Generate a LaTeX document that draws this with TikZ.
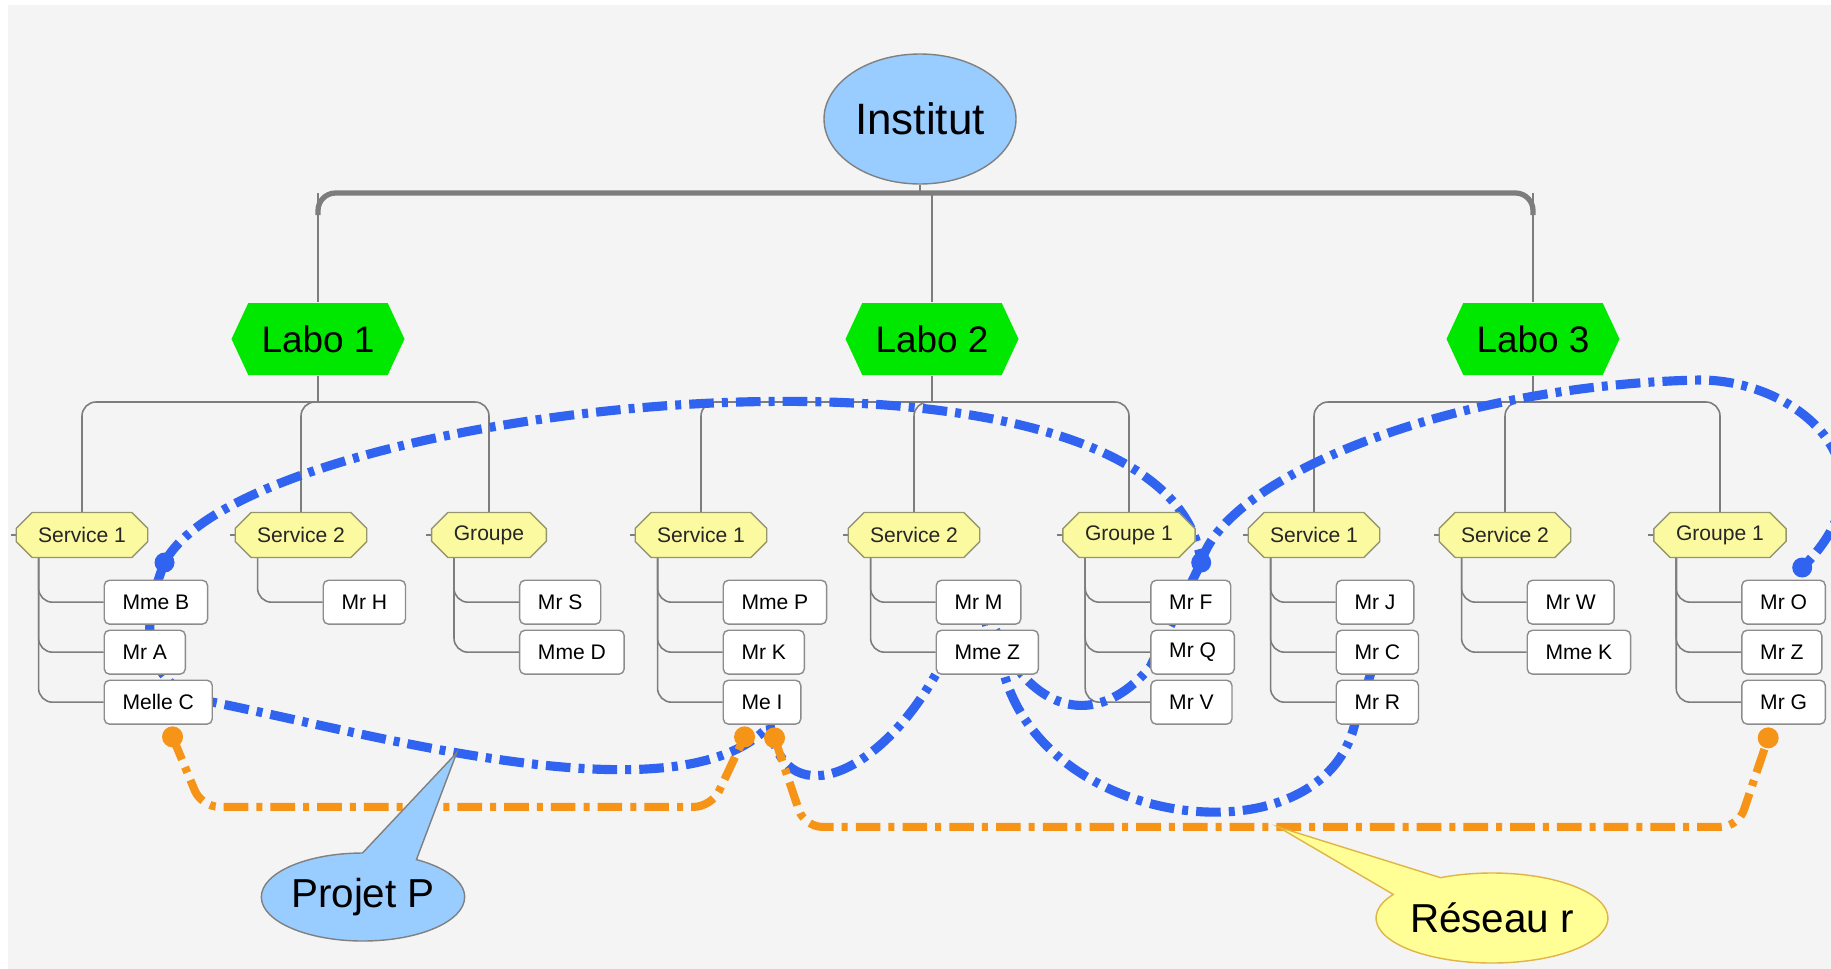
\documentclass[tikz,border=0pt]{standalone}
\usepackage{fontspec}
\setmainfont{Liberation Sans}
\usetikzlibrary{shapes.geometric,shapes.misc,shapes.symbols,shapes.callouts,calc,positioning}

\definecolor{bgGray}{RGB}{244,244,244}
\definecolor{lineGray}{RGB}{125,125,125}
\definecolor{instBlue}{RGB}{153,204,255}
\definecolor{laboGreen}{RGB}{0,232,0}
\definecolor{svcYellow}{RGB}{252,250,160}
\definecolor{svcEdge}{RGB}{150,150,110}
\definecolor{boxEdge}{RGB}{140,140,140}
\definecolor{projBlue}{RGB}{48,100,240}
\definecolor{resOrange}{RGB}{245,148,22}
\definecolor{noteYellow}{RGB}{255,255,150}
\definecolor{noteEdge}{RGB}{225,180,70}

\pgfdeclarelayer{bg}
\pgfdeclarelayer{tree}
\pgfdeclarelayer{links}
\pgfsetlayers{bg,tree,links,main}

\begin{document}
\begin{tikzpicture}[x=0.1mm, y=-0.1mm]
  \tikzset{
    treeline/.style={draw=lineGray, line width=0.45pt, rounded corners=4pt},
    busline/.style={draw=lineGray, line width=1.5pt, rounded corners=5pt},
    institut/.style={ellipse, draw=gray, fill=instBlue, minimum width=19.2mm,
      minimum height=13mm, inner sep=0pt, font=\fontsize{12.5}{14}\selectfont},
    labo/.style={signal, signal to=east and west, signal pointer angle=130,
      fill=laboGreen, minimum width=17.3mm, minimum height=7.2mm, inner sep=0pt,
      font=\fontsize{10.5}{12}\selectfont},
    service/.style={chamfered rectangle, chamfered rectangle xsep=2.3pt,
      chamfered rectangle ysep=2.3pt, draw=svcEdge, fill=svcYellow,
      minimum height=12.8pt, inner xsep=4pt, inner ysep=0pt,
      font=\fontsize{6}{7}\selectfont, text=black!85},
    person/.style={rectangle, rounded corners=1.5pt, draw=boxEdge, fill=white,
      minimum height=12.5pt, inner xsep=5.2pt, inner ysep=0pt, anchor=west,
      font=\fontsize{6}{7}\selectfont},
    projet/.style={draw=projBlue, line width=2.6pt,
      dash pattern=on 7pt off 2.3pt on 1.7pt off 2.3pt},
    reseau/.style={draw=resOrange, line width=2.3pt, rounded corners=5pt,
      dash pattern=on 7pt off 2.3pt on 1.7pt off 2.3pt},
    pdot/.style={circle, fill=projBlue, minimum size=2mm, inner sep=0pt},
    rdot/.style={circle, fill=resOrange, minimum size=2.1mm, inner sep=0pt},
    note/.style={ellipse callout, callout pointer arc=32, inner sep=0pt,
      font=\fontsize{11.5}{13}\selectfont}
  }
  \useasboundingbox (0,0) rectangle (1831,969);
  \begin{pgfonlayer}{bg}
    \fill[bgGray] (8,5) rectangle (1831,969);
  \end{pgfonlayer}
  \coordinate (busA) at (0,193);
  \coordinate (busB) at (0,402);

  \node[institut] (inst) at (920,119) {Institut};
  \node[labo] (L1) at (318,339) {Labo 1};
  \node[labo] (L2) at (932,339) {Labo 2};
  \node[labo] (L3) at (1533,339) {Labo 3};

  \foreach \s/\x/\lbl/\kids in {
      L1-S1/82/Service 1/{Mme B,Mr A,Melle C},
      L1-S2/301/Service 2/{Mr H},
      L1-G/489/Groupe/{Mr S,Mme D},
      L2-S1/701/Service 1/{Mme P,Mr K,Me I},
      L2-S2/914/Service 2/{Mr M,Mme Z},
      L2-G/1129/Groupe 1/{Mr F,Mr Q,Mr V},
      L3-S1/1314/Service 1/{Mr J,Mr C,Mr R},
      L3-S2/1505/Service 2/{Mr W,Mme K},
      L3-G/1720/Groupe 1/{Mr O,Mr Z,Mr G}} {
    \node[service] (\s) at (\x,535) {\lbl};
    \coordinate (\s-v) at ($(\s.west |- \s.south)+(23,0)$);
    \foreach \k [count=\i] in \kids {
      \node[person] (\s-\i) at ($(\s-v)+(65,-6+50*\i)$) {\k};
      \begin{pgfonlayer}{tree}
        \draw[treeline] (\s-v) |- (\s-\i.west);
      \end{pgfonlayer}
    }
    \begin{pgfonlayer}{tree}
      \draw[treeline] (\s.west) -- ++(-5,0);
    \end{pgfonlayer}
  }

  \begin{pgfonlayer}{tree}
    \draw[treeline] (inst.south) -- (inst.south |- busA);
    \draw[busline] (L1.north |- 0,215) |- (inst.south |- busA) -| (L3.north |- 0,215);
    \draw[treeline] (L1.north) -- (L1.north |- busA);
    \draw[treeline] (L2.north) -- (L2.north |- busA);
    \draw[treeline] (L3.north) -- (L3.north |- busA);
    \foreach \l in {L1,L2,L3} {
      \draw[treeline] (\l-S1.north) |- (\l.south |- busB) -| (\l-G.north);
      \draw[treeline] (\l.south) -- (\l.south |- busB);
      \draw[treeline] (\l-S2.north) |- (\l.south |- busB);
    }
  \end{pgfonlayer}

  \node[pdot] (dB) at ($(L1-S1-1.north west)+(61,-17)$) {};
  \node[pdot] (dF) at ($(L2-G-1.north west)+(51,-17)$) {};
  \node[pdot] (dO) at ($(L3-G-1.north west)+(61,-12)$) {};
  \node[rdot] (oC) at ($(L1-S1-3.south west)+(69,12)$) {};
  \node[rdot] (oI1) at ($(L2-S1-3.south west)+(22,12)$) {};
  \node[rdot] (oI2) at ($(L2-S1-3.south west)+(52,13)$) {};
  \node[rdot] (oG) at ($(L3-G-3.south west)+(27,13)$) {};
  \coordinate (arcTop) at (1700,380);

  \begin{pgfonlayer}{links}
    \draw[projet] (dB.center) .. controls +(-31,78) and +(-61,-11) .. (L1-S1-3.east)
      .. controls +(169,34) and +(-88,97) .. coordinate[pos=0.4] (tipP) ($(L2-S1-3.south)+(8,0)$)
      .. controls +(12,87) and +(-61,107) .. (L2-S2-2.south west);
    \draw[projet] (dB.center) .. controls +(84,-162) and +(-33,-262) .. (dF.center);
    \draw[projet] (dF.center) .. controls +(23,-85) and +(-250,5) .. (arcTop)
      .. controls +(100,0) and +(99,-97) .. (dO.center);
    \draw[projet] (L2-S2-1.center) -- ($(L2-S2-2.south)+(17,0)$)
      .. controls +(45,157) and +(-34,137) .. ($(L3-S1-3.south west)+(19,0)$) -- (L3-S1-2.center);
    \draw[projet] (L2-S2-1.center) -- ($(L2-S2-2.south)+(35,0)$)
      .. controls +(37,42) and +(-42,50) .. ($(L2-G-2.south west)+(0,-8)$) -- (dF.center);
    \draw[reseau] (oC.center) -- ++(29,70) -- ($(oI1.center)+(-33,70)$) -- (oI1.center);
    \draw[reseau] (oI2.center) -- ++(30,89) -- coordinate[pos=0.507] (tipR)
      ($(oG.center)+(-30,89)$) -- (oG.center);
  \end{pgfonlayer}

  \node[note, fill=instBlue, draw=gray, minimum width=19.6mm, minimum height=8.8mm,
    callout absolute pointer={(tipP)}] (projP) at (363,897) {Projet P};
  \node[note, fill=noteYellow, draw=noteEdge, minimum width=21.6mm, minimum height=9mm,
    callout absolute pointer={(tipR)}] (resR) at (1492,918) {Réseau r};
\end{tikzpicture}
\end{document}
